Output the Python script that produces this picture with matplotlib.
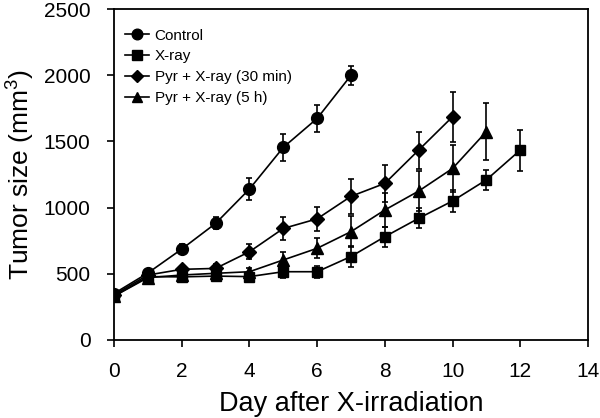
import numpy as np
import matplotlib
matplotlib.use("Agg")
import matplotlib.pyplot as plt

plt.rcParams['font.family'] = ['Liberation Sans', 'DejaVu Sans']
plt.rcParams['mathtext.fontset'] = 'custom'
plt.rcParams['mathtext.rm'] = 'Liberation Sans'
plt.rcParams['mathtext.it'] = 'Liberation Sans:italic'

# tumor volume (mm^3)
days_control = [0, 1, 2, 3, 4, 5, 6, 7]
control = [350, 505, 686, 880, 1140, 1455, 1674, 2000]
control_err = [20, 25, 35, 45, 80, 100, 105, 70]

days_xray = [0, 1, 2, 3, 4, 5, 6, 7, 8, 9, 10, 11, 12]
xray = [330, 478, 476, 482, 478, 515, 515, 630, 780, 919, 1050, 1210, 1435]
xray_err = [20, 20, 20, 20, 25, 45, 45, 80, 75, 75, 80, 75, 155]

days_pyr30 = [0, 1, 2, 3, 4, 5, 6, 7, 8, 9, 10]
pyr30 = [340, 490, 533, 540, 666, 842, 915, 1085, 1183, 1435, 1687]
pyr30_err = [20, 20, 25, 30, 55, 85, 90, 130, 140, 140, 190]

days_pyr5h = [0, 1, 2, 3, 4, 5, 6, 7, 8, 9, 10, 11]
pyr5h = [330, 470, 490, 503, 515, 604, 692, 818, 982, 1125, 1296, 1575]
pyr5h_err = [20, 20, 20, 25, 30, 60, 75, 115, 130, 150, 180, 215]

fig = plt.figure(figsize=(6.0, 4.18), dpi=100)
ax = fig.add_axes([0.19, 0.187, 0.79, 0.791])

series = [
    (days_control, control, control_err, 'o', 8.5, "Control"),
    (days_xray, xray, xray_err, 's', 7.5, "X-ray"),
    (days_pyr30, pyr30, pyr30_err, 'D', 7.0, "Pyr + X-ray (30 min)"),
    (days_pyr5h, pyr5h, pyr5h_err, '^', 8.5, "Pyr + X-ray (5 h)"),
]
handles = []
for d, v, e, mk, ms, lab in series:
    c = ax.errorbar(d, v, yerr=e, color='black', marker=mk, markersize=ms,
                    linewidth=1.2, elinewidth=1.2, capsize=2.5, capthick=1.2,
                    label=lab)
    handles.append(c.lines[0])

ax.set_xlim(0, 14)
ax.set_ylim(0, 2500)
ax.set_xticks(np.arange(0, 15, 2))
ax.set_yticks(np.arange(0, 2501, 500))
ax.tick_params(direction='out', length=5, width=1.2, labelsize=15)
ax.tick_params(axis='x', pad=11)
ax.tick_params(axis='y', pad=12)
for s in ax.spines.values():
    s.set_linewidth(1.3)

ax.set_xlabel("Day after X-irradiation", fontsize=19.5, labelpad=7.5)
ax.set_ylabel("Tumor size (mm$^3$)", fontsize=19, labelpad=5)

ax.legend(handles, [s[5] for s in series], loc='upper left', frameon=False,
          fontsize=11, handlelength=1.6, handletextpad=0.35, labelspacing=0.45,
          borderaxespad=0.0, bbox_to_anchor=(0.01, 0.96), markerscale=0.9)

fig.savefig("out.png", dpi=100)
